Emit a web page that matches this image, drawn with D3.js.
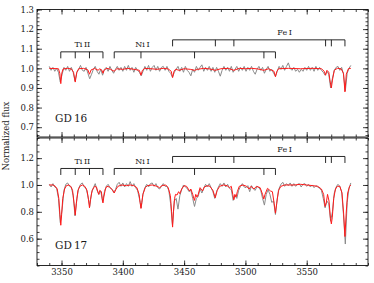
<!DOCTYPE html>
<html>
<head>
<meta charset="utf-8">
<script src="https://cdn.jsdelivr.net/npm/d3@7"></script>
<style>
  body { margin: 0; background: #fff; }
  svg text { font-family: "DejaVu Serif", serif; fill: #1a1a1a; }
</style>
</head>
<body>
<div id="chart"></div>
<script>
// Data
// observed spectra, regular wavelength grid
var obsStart = 3340, obsStep = 1.5;

var gd16Obs = [
  1.01, 0.99, 1.005, 0.985, 1.0, 0.98, 0.93, 0.97, 1.005, 0.99,
  1.01, 0.985, 1.005, 0.98, 0.935, 0.98, 0.995, 1.015, 0.99, 0.985,
  1.005, 0.975, 0.947, 0.97, 0.995, 1.01, 0.985, 0.97, 0.995, 0.965,
  0.995, 1.005, 0.985, 1.01, 0.99, 0.975, 0.995, 1.01, 0.99, 1.005,
  0.985, 1.01, 0.99, 1.015, 0.99, 1.005, 0.98, 1.005, 0.99, 0.98,
  0.962, 0.985, 1.01, 0.99, 1.015, 0.985, 1.005, 1.015, 0.99, 1.01,
  0.985, 1.005, 1.01, 0.99, 1.01, 0.985, 0.975, 0.955, 0.98, 0.995,
  1.01, 0.985, 1.005, 0.98, 1.01, 0.99, 0.98, 0.962, 0.995, 0.98,
  1.01, 0.99, 1.005, 1.018, 0.985, 1.005, 0.99, 1.01, 0.985, 1.005,
  0.98, 1.005, 0.985, 0.96, 0.99, 1.01, 0.99, 1.005, 0.985, 1.01,
  0.98, 0.995, 1.01, 0.985, 1.005, 0.99, 1.01, 0.985, 1.005, 0.99,
  1.01, 0.985, 0.97, 0.995, 1.01, 0.99, 1.005, 0.975, 0.995, 1.01,
  0.985, 0.995, 0.975, 0.96, 0.985, 1.01, 0.995, 1.015, 0.99, 1.01,
  1.028, 1.0, 0.99, 1.005, 0.985, 0.995, 0.98, 0.995, 0.985, 1.005,
  0.99, 1.01, 0.99, 1.005, 0.985, 1.01, 0.99, 1.005, 0.99, 0.98,
  0.965, 0.985, 0.97, 0.9, 0.95, 0.99, 1.005, 1.01, 0.99, 1.005,
  0.97, 0.885, 0.975, 1.0, 1.015
];

var gd17Obs = [
  1.005, 0.985, 1.01, 0.985, 0.975, 0.9, 0.72, 0.82, 0.96, 1.005,
  1.015, 0.99, 0.985, 0.92, 0.77, 0.9, 0.975, 1.005, 1.015, 0.985,
  0.975, 0.92, 0.84, 0.94, 0.98, 1.01, 0.96, 0.93, 0.955, 0.875,
  0.95, 0.99, 1.005, 0.98, 0.97, 0.945, 0.965, 1.005, 1.02, 0.99,
  1.015, 0.985, 1.01, 0.99, 1.025, 0.99, 1.01, 0.98, 0.96, 0.9,
  0.83, 0.935, 0.98, 1.005, 0.985, 1.01, 1.015, 0.99, 1.01, 0.98,
  0.97, 0.99, 1.01, 0.99, 0.99, 0.96, 0.86, 0.7, 0.88, 0.9,
  0.82, 0.92, 0.965, 1.0, 0.985, 0.975, 0.95, 0.96, 0.9, 0.84,
  0.9, 0.915, 0.97, 0.94, 0.975, 1.005, 0.985, 1.01, 0.98, 0.95,
  0.9, 0.95, 0.985, 1.01, 0.99, 1.015, 0.985, 1.005, 0.975, 0.965,
  0.885, 0.92, 0.9, 0.96, 0.99, 1.01, 0.985, 0.98, 0.995, 0.95,
  0.995, 0.97, 0.96, 0.99, 0.98, 0.96, 0.9, 0.85, 0.93, 0.965,
  0.93, 0.87, 0.88, 0.78, 0.9, 0.975, 1.005, 1.02, 0.99, 1.01,
  0.995, 1.015, 0.99, 1.01, 0.99, 1.005, 1.01, 0.985, 1.005, 1.01,
  0.99, 1.005, 0.985, 1.0, 0.98, 0.995, 0.985, 0.975, 0.96, 0.9,
  0.83, 0.88, 0.86, 0.73, 0.8, 0.94, 0.985, 1.005, 0.99, 0.95,
  0.78, 0.56, 0.87, 0.975, 1.015
];

// model spectra, [wavelength, flux]
var gd16Model = [
  [3340, 1.0], [3347.5, 0.998], [3348.6, 0.975], [3349.4, 0.922], [3350.2, 0.975], [3351.3, 0.997],
  [3355, 1.0], [3358, 0.997], [3359.8, 0.98], [3361.2, 0.93], [3362.5, 0.98], [3364, 0.998],
  [3368, 1.0], [3371.5, 0.992], [3372.8, 0.97], [3374.1, 0.992], [3377, 0.999], [3380, 0.99],
  [3381, 0.998], [3383, 0.99], [3383.8, 0.975], [3384.6, 0.99], [3387, 1.0], [3390, 0.995],
  [3393, 0.985], [3395, 0.998], [3400, 0.995], [3404, 1.0], [3409, 0.995], [3413.5, 0.99],
  [3414.8, 0.965], [3416, 0.99], [3418, 1.0], [3423, 0.998], [3428, 0.995], [3433, 1.0],
  [3437, 0.997], [3439.5, 0.985], [3440.6, 0.953], [3441.8, 0.985], [3443, 0.995], [3446, 0.99],
  [3450, 0.998], [3455, 0.995], [3458.5, 0.99], [3461, 0.995], [3466, 1.0], [3471, 0.997],
  [3475.4, 0.99], [3480, 0.998], [3486, 1.0], [3490.6, 0.99], [3495, 1.0], [3500, 0.998],
  [3505, 1.0], [3510, 0.997], [3515, 0.99], [3519, 0.998], [3523.3, 0.985], [3524.5, 0.957],
  [3525.7, 0.985], [3527, 0.998], [3535, 1.0], [3545, 0.998], [3555, 1.0], [3562, 0.998],
  [3564.3, 0.985], [3565.4, 0.965], [3566.5, 0.99], [3568, 0.98], [3569.2, 0.93], [3570.1, 0.9],
  [3571, 0.94], [3572.5, 0.99], [3575, 1.0], [3578, 0.998], [3580, 0.975], [3581.2, 0.88],
  [3582.3, 0.97], [3584, 0.998], [3586, 1.0]
];

var gd17Model = [
  [3340, 1.0], [3343, 1.0], [3345, 0.99], [3346.5, 0.97], [3347.8, 0.9], [3348.7, 0.78],
  [3349.4, 0.7], [3350.1, 0.78], [3351, 0.9], [3352.5, 0.97], [3354, 0.995], [3356, 1.0],
  [3357.5, 0.99], [3359, 0.96], [3360.3, 0.86], [3361.2, 0.775], [3362.1, 0.86], [3363.4, 0.96],
  [3365, 0.99], [3367, 1.0], [3369, 0.99], [3370.8, 0.96], [3372, 0.89], [3372.8, 0.83],
  [3373.6, 0.89], [3375, 0.96], [3377, 0.99], [3378.5, 0.985], [3379.6, 0.95], [3380.3, 0.93],
  [3381.2, 0.96], [3382.5, 0.95], [3383.2, 0.9], [3383.8, 0.866], [3384.5, 0.91], [3385.8, 0.97],
  [3387, 0.99], [3389, 0.985], [3391.5, 0.965], [3393, 0.94], [3394.3, 0.965], [3396, 0.99],
  [3399, 1.0], [3403, 0.995], [3406, 1.0], [3409, 0.995], [3411.5, 0.98], [3413.3, 0.93],
  [3414.1, 0.87], [3414.8, 0.825], [3415.5, 0.87], [3416.4, 0.93], [3418.3, 0.98], [3420, 0.995],
  [3424, 1.0], [3428, 0.99], [3430, 0.98], [3432, 0.995], [3435, 1.0], [3437, 0.98],
  [3438.8, 0.92], [3439.8, 0.8], [3440.6, 0.686], [3441.3, 0.8], [3442.2, 0.9], [3443, 0.93],
  [3444.2, 0.925], [3445.5, 0.95], [3446.5, 0.935], [3448, 0.97], [3450, 0.995], [3452, 0.99],
  [3454.5, 0.955], [3455.5, 0.97], [3457, 0.93], [3458.4, 0.885], [3459.5, 0.93], [3460.5, 0.91],
  [3461.5, 0.93], [3463, 0.98], [3465, 0.955], [3466.5, 0.985], [3469, 0.995], [3471, 0.99],
  [3473.5, 0.96], [3475.4, 0.905], [3477, 0.96], [3479, 0.99], [3482, 1.0], [3485, 0.995],
  [3487, 0.98], [3488.5, 0.99], [3489.7, 0.93], [3490.6, 0.89], [3491.4, 0.93], [3492.4, 0.91],
  [3493.4, 0.95], [3495, 0.99], [3498, 1.0], [3501, 0.99], [3503, 0.97], [3504.5, 0.99],
  [3507, 0.97], [3509, 0.99], [3512, 0.98], [3514, 0.93], [3515, 0.895], [3516, 0.93],
  [3518, 0.975], [3520.5, 0.955], [3522, 0.95], [3523.5, 0.86], [3524.5, 0.79], [3525.5, 0.86],
  [3527, 0.96], [3529, 0.99], [3532, 1.0], [3540, 1.0], [3545, 1.005], [3550, 1.0],
  [3555, 0.995], [3559, 0.99], [3562, 0.97], [3563.8, 0.93], [3565, 0.84], [3566, 0.87],
  [3567, 0.93], [3568.2, 0.88], [3569.4, 0.75], [3570.1, 0.71], [3570.9, 0.76], [3572, 0.9],
  [3573.5, 0.97], [3575, 0.99], [3577, 0.99], [3578.8, 0.94], [3580.1, 0.79], [3581.2, 0.616],
  [3582.2, 0.79], [3583.4, 0.94], [3585, 0.99], [3586, 1.0]
];

// line identifications
var tiLines = [3349.4, 3361.2, 3372.8, 3383.8];
var niLines = [3393.0, 3414.8, 3458.5, 3515.1, 3524.5];
var feLines = [3440.6, 3475.5, 3490.6, 3565.4, 3570.1, 3581.2];
var ionNames = ["Ti\u2009II", "Ni\u2009I", "Fe\u2009I"];
var ionLabelWave = [3367, 3416, 3532];

var starNames = ["GD\u200916", "GD\u200917"];
var xTicks = [3350, 3400, 3450, 3500, 3550];
var gd16YTicks = [0.7, 0.8, 0.9, 1.0, 1.1, 1.2, 1.3];
var gd17YTicks = [0.6, 0.8, 1.0, 1.2];

var width = 374, height = 283;
var left = 37, right = 368;

var svg = d3.select("#chart")
  .append("svg")
  .attr("width", width)
  .attr("height", height);

var x = d3.scaleLinear().domain([3330, 3600]).range([left, right]);
var xMinor = d3.range(333, 361).map(k => k * 10);

var panels = [
  {
    name: starNames[0], obs: gd16Obs, model: gd16Model,
    y: d3.scaleLinear().domain([0.65, 1.3]).range([137, 9.5]),
    major: gd16YTicks, minor: d3.range(33, 66).map(k => k * 0.02),
    labelY: 121.5, bottom: false
  },
  {
    name: starNames[1], obs: gd17Obs, model: gd17Model,
    y: d3.scaleLinear().domain([0.4, 1.35]).range([265.5, 138]),
    major: gd17YTicks, minor: d3.range(8, 28).map(k => k * 0.05),
    labelY: 249, bottom: true
  }
];

var ions = [
  { lines: tiLines, level: 16.5, name: ionNames[0], at: ionLabelWave[0] },
  { lines: niLines, level: 16.5, name: ionNames[1], at: ionLabelWave[1] },
  { lines: feLines, level: 28.5, name: ionNames[2], at: ionLabelWave[2] }
];

function styleAxis(g) {
  g.select(".domain").remove();
  g.attr("font-family", null).attr("font-size", null);
  g.selectAll("line").attr("stroke", "#111").attr("stroke-width", 0.8);
  g.selectAll("text").style("font-size", "8.5px");
}

panels.forEach(function(p) {
  var y = p.y;
  var top = y.range()[1], bot = y.range()[0];

  // spectra
  var obsLine = d3.line()
    .x((d, i) => x(obsStart + i * obsStep))
    .y(d => y(d));
  svg.append("path")
    .datum(p.obs)
    .attr("d", obsLine)
    .attr("fill", "none")
    .attr("stroke", "#8a8a8a")
    .attr("stroke-width", 1);

  var modelLine = d3.line()
    .x(d => x(d[0]))
    .y(d => y(d[1]));
  svg.append("path")
    .datum(p.model)
    .attr("d", modelLine)
    .attr("fill", "none")
    .attr("stroke", "#ff1a1a")
    .attr("stroke-width", 1);

  // line id brackets
  var y1 = y(1.0);
  ions.forEach(function(ion) {
    var by = y1 - ion.level;
    var g = svg.append("g").attr("stroke", "#111").attr("stroke-width", 0.9);
    g.append("line")
      .attr("x1", x(d3.min(ion.lines))).attr("x2", x(d3.max(ion.lines)))
      .attr("y1", by).attr("y2", by);
    g.selectAll("line.t")
      .data(ion.lines)
      .enter()
      .append("line")
      .attr("class", "t")
      .attr("x1", d => x(d)).attr("x2", d => x(d))
      .attr("y1", by).attr("y2", by + 6.5);
    svg.append("text")
      .attr("x", x(ion.at))
      .attr("y", by - 4.5)
      .attr("text-anchor", "middle")
      .style("font-size", "8px")
      .text(ion.name);
  });

  // star label
  svg.append("text")
    .attr("x", 55)
    .attr("y", p.labelY)
    .style("font-size", "10.5px")
    .text(p.name);

  // axes, ticks pointing inward on every side
  svg.append("g").attr("transform", "translate(" + left + ",0)")
    .call(d3.axisLeft(y).tickValues(p.major).tickSize(-5).tickPadding(3).tickFormat(d3.format(".1f")))
    .call(styleAxis);
  svg.append("g").attr("transform", "translate(" + left + ",0)")
    .call(d3.axisLeft(y).tickValues(p.minor).tickSize(-2.5).tickFormat(""))
    .call(styleAxis);
  svg.append("g").attr("transform", "translate(" + right + ",0)")
    .call(d3.axisRight(y).tickValues(p.major).tickSize(-5).tickFormat(""))
    .call(styleAxis);
  svg.append("g").attr("transform", "translate(" + right + ",0)")
    .call(d3.axisRight(y).tickValues(p.minor).tickSize(-2.5).tickFormat(""))
    .call(styleAxis);

  svg.append("g").attr("transform", "translate(0," + top + ")")
    .call(d3.axisTop(x).tickValues(xTicks).tickSize(-5).tickFormat(""))
    .call(styleAxis);
  svg.append("g").attr("transform", "translate(0," + top + ")")
    .call(d3.axisTop(x).tickValues(xMinor).tickSize(-2.5).tickFormat(""))
    .call(styleAxis);
  svg.append("g").attr("transform", "translate(0," + bot + ")")
    .call(d3.axisBottom(x).tickValues(xTicks).tickSize(-5).tickPadding(3)
      .tickFormat(p.bottom ? d3.format("d") : ""))
    .call(styleAxis);
  svg.append("g").attr("transform", "translate(0," + bot + ")")
    .call(d3.axisBottom(x).tickValues(xMinor).tickSize(-2.5).tickFormat(""))
    .call(styleAxis);

  // frame
  svg.append("rect")
    .attr("x", left).attr("y", top)
    .attr("width", right - left).attr("height", bot - top)
    .attr("fill", "none")
    .attr("stroke", "#111")
    .attr("stroke-width", 0.9);
});

svg.append("text")
  .attr("transform", "translate(9,136) rotate(-90)")
  .attr("text-anchor", "middle")
  .style("font-size", "8.5px")
  .text("Normalized flux");
</script>
</body>
</html>
